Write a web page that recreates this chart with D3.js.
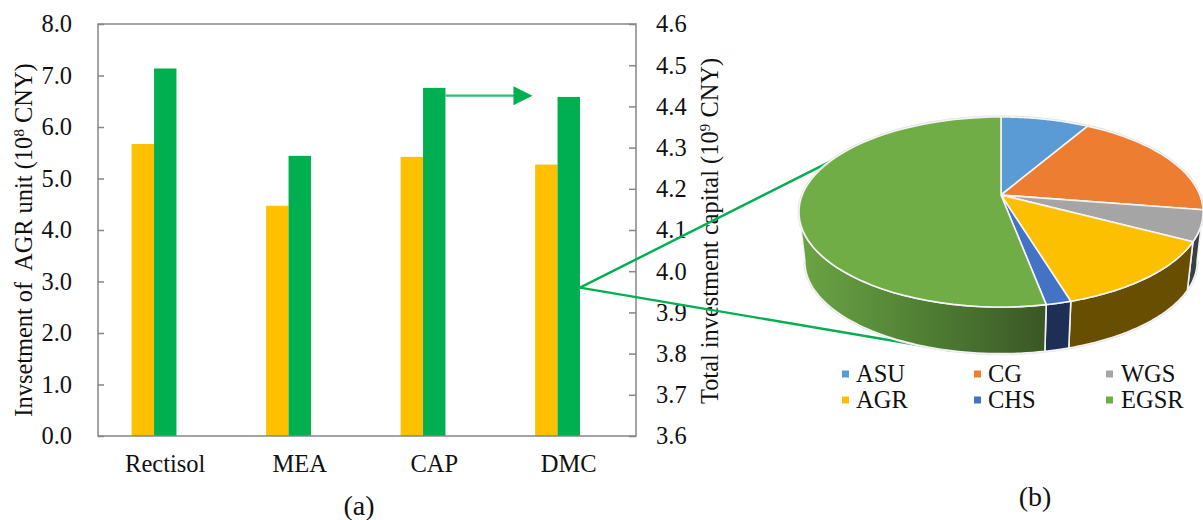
<!DOCTYPE html>
<html>
<head>
<meta charset="utf-8">
<script src="https://cdn.jsdelivr.net/npm/d3@7/dist/d3.min.js"></script>
<style>
html,body{margin:0;padding:0;background:#fff}
svg{display:block}
text{font-family:"Liberation Serif","Times New Roman",serif;fill:#111}
</style>
</head>
<body>
<svg id="c" width="1203" height="520"></svg>
<script>
const categories = ["Rectisol","MEA","CAP","DMC"];
const agrInvestment = [5.67,4.47,5.42,5.27];
const totalCapital = [4.492,4.28,4.445,4.423];
const leftTicks = [0,1,2,3,4,5,6,7,8];
const rightTicks = [3.6,3.7,3.8,3.9,4.0,4.1,4.2,4.3,4.4,4.5,4.6];
const pieNames = ["ASU","CG","WGS","AGR","CHS","EGSR"];
const pieShares = [8.4,19.1,5.2,12.6,1.7,53.0];
const pieColors = ["#5b9bd5","#ed7d31","#a5a5a5","#fcc000","#4472c4","#70ad47"];
const wallColors = ["#35587a","#8a4a1d","#3a3f46","#674e00","#1d2f55","url(#egsrWall)"];

const svg = d3.select("#c");
const M = {l:98,r:636,t:24,b:436};
const axisColor = "#868686";
const fs = 24.5;

const x0 = d3.scaleBand().domain(categories).range([M.l,M.r]).paddingInner(0.5).paddingOuter(0.25);
const x1 = d3.scaleBand().domain(["agr","total","unused"]).range([0,x0.bandwidth()]);
const yL = d3.scaleLinear().domain([0,8]).range([M.b,M.t]);
const yR = d3.scaleLinear().domain([3.6,4.6]).range([M.b,M.t]);

// bars
const bars = svg.append("g");
bars.selectAll("rect.a").data(categories).join("rect").attr("class","a")
  .attr("x",d=>x0(d)+x1("agr")).attr("width",x1.bandwidth())
  .attr("y",(d,i)=>yL(agrInvestment[i])).attr("height",(d,i)=>M.b-yL(agrInvestment[i]))
  .attr("fill","#ffc000");
bars.selectAll("rect.t").data(categories).join("rect").attr("class","t")
  .attr("x",d=>x0(d)+x1("total")).attr("width",x1.bandwidth())
  .attr("y",(d,i)=>yR(totalCapital[i])).attr("height",(d,i)=>M.b-yR(totalCapital[i]))
  .attr("fill","#00b050");

// frame and axes
svg.append("rect").attr("x",M.l).attr("y",M.t).attr("width",M.r-M.l).attr("height",M.b-M.t)
  .attr("fill","none").attr("stroke",axisColor).attr("stroke-width",1.5);
function styleAxis(g){
  g.select(".domain").remove();
  g.selectAll("line").attr("stroke",axisColor).attr("stroke-width",1.5);
  g.selectAll("text").attr("font-size",fs).attr("fill","#111").attr("font-family",'"Liberation Serif",serif');
}
svg.append("g").attr("transform",`translate(${M.l},0)`)
  .call(d3.axisLeft(yL).tickValues(leftTicks).tickFormat(d3.format(".1f")).tickSize(-6).tickPadding(26)).call(styleAxis);
svg.append("g").attr("transform",`translate(${M.r},0)`)
  .call(d3.axisRight(yR).tickValues(rightTicks).tickFormat(d3.format(".1f")).tickSize(-7).tickPadding(20)).call(styleAxis);
svg.append("g").attr("transform",`translate(0,${M.b})`)
  .call(d3.axisBottom(x0).tickSize(0).tickPadding(19)).call(styleAxis);

// titles
function title(x,y,parts){
  const t = svg.append("text").attr("transform",`translate(${x},${y}) rotate(-90)`)
    .attr("text-anchor","middle").attr("font-size",24.4).attr("xml:space","preserve");
  parts.forEach(p=>{
    const s=t.append("tspan").text(p.t);
    if(p.sup) s.attr("baseline-shift","super").attr("font-size",15.5);
  });
}
title(32,240,[{t:"Invsetment of  AGR unit (10"},{t:"8",sup:1},{t:" CNY)"}]);
title(718,231,[{t:"Total investment capital (10"},{t:"9",sup:1},{t:" CNY)"}]);

svg.append("text").attr("x",359).attr("y",515).attr("text-anchor","middle").attr("font-size",28).text("(a)");
svg.append("text").attr("x",1035).attr("y",506).attr("text-anchor","middle").attr("font-size",28).text("(b)");

// 3D pie projection
const P = {cx:1001,k:0.179};
const top3d = {y:195,A:198.8,B:92};
const low3d = {y:245,A:193,B:89.2};
function proj(a,l){
  const u=Math.sin(a), v=-Math.cos(a), w=1-P.k*v;
  return [P.cx+l.A*u/w, l.y+l.B*v/w];
}
const wallFrom = 99.7*Math.PI/180, wallTo = 260.3*Math.PI/180;
const arcs = d3.pie().sort(null).value(d=>d)(pieShares);
const line = d3.line();
function samples(a0,a1){
  return d3.range(0,61).map(i=>a0+(a1-a0)*i/60);
}

// connector lines behind the pie
const zoomX = x0("DMC")+x1("total")+x1.bandwidth();
const zoomY = yL(2.88);
const conn = svg.append("g");
conn.append("path").attr("d",line([[zoomX,zoomY],proj(arcs[5].startAngle+(arcs[5].endAngle-arcs[5].startAngle)*0.78,top3d)]))
  .attr("stroke","#00b050").attr("stroke-width",2.4).attr("fill","none");
conn.append("path").attr("d",line([[zoomX,zoomY],proj(arcs[5].startAngle+(arcs[5].endAngle-arcs[5].startAngle)*0.12,low3d)]))
  .attr("stroke","#00b050").attr("stroke-width",2.4).attr("fill","none");

// arrow
const arrowY = yR(4.426);
const arrowX0 = x0("CAP")+x1("total")+x1.bandwidth();
svg.append("path").attr("d",line([[arrowX0,arrowY],[arrowX0+70,arrowY]])).attr("stroke","#2cbf6f").attr("stroke-width",2.2).attr("fill","none");
svg.append("path").attr("d",d3.line()([[arrowX0+68,arrowY-9.5],[arrowX0+87,arrowY],[arrowX0+68,arrowY+9.5]])+"Z").attr("fill","#00b050");

// gradient for the large wall
const defs = svg.append("defs");
const gr = defs.append("linearGradient").attr("id","egsrWall").attr("gradientUnits","userSpaceOnUse")
  .attr("x1",803).attr("x2",1045).attr("y1",0).attr("y2",0);
gr.append("stop").attr("offset",0).attr("stop-color","#6aa344");
gr.append("stop").attr("offset",0.5).attr("stop-color","#507f34");
gr.append("stop").attr("offset",1).attr("stop-color","#3a5726");

const pie3 = svg.append("g");
// pale halo round the whole solid
const rim = samples(0,2*Math.PI).map(a=>proj(a,top3d));
pie3.append("path").attr("d",line(rim)+"Z").attr("fill","none").attr("stroke","#dedede").attr("stroke-width",3);
const wallRim = samples(wallFrom,wallTo);
pie3.append("path").attr("d",line(wallRim.map(a=>proj(a,low3d)))).attr("fill","none").attr("stroke","#e4e4e4").attr("stroke-width",3);
// walls
arcs.forEach((d,i)=>{
  const a0=Math.max(d.startAngle,wallFrom), a1=Math.min(d.endAngle,wallTo);
  if(a1<=a0) return;
  const s=samples(a0,a1);
  const pts=s.map(a=>proj(a,top3d)).concat(s.slice().reverse().map(a=>proj(a,low3d)));
  pie3.append("path").attr("d",line(pts)+"Z").attr("fill",wallColors[i])
    .attr("stroke","#f2f2f2").attr("stroke-width",1.6).attr("stroke-linejoin","round");
});
// top faces
arcs.forEach((d,i)=>{
  const pts=[[P.cx,top3d.y]].concat(samples(d.startAngle,d.endAngle).map(a=>proj(a,top3d)));
  pie3.append("path").attr("d",line(pts)+"Z").attr("fill",pieColors[i])
    .attr("stroke","#f4f4f4").attr("stroke-width",1.6).attr("stroke-linejoin","round");
});

// legend
const legX = d3.scalePoint().domain([0,1,2]).range([842,1106]);
const legY = d3.scalePoint().domain([0,1]).range([374,400]);
const leg = svg.append("g");
pieNames.forEach((n,i)=>{
  const c=i%3, r=Math.floor(i/3);
  leg.append("rect").attr("x",legX(c)).attr("y",legY(r)-3.5).attr("width",7).attr("height",7).attr("fill",pieColors[i]);
  leg.append("text").attr("x",legX(c)+(c===2?15:14)).attr("y",legY(r)+8).attr("font-size",fs).text(n);
});
</script>
</body>
</html>
